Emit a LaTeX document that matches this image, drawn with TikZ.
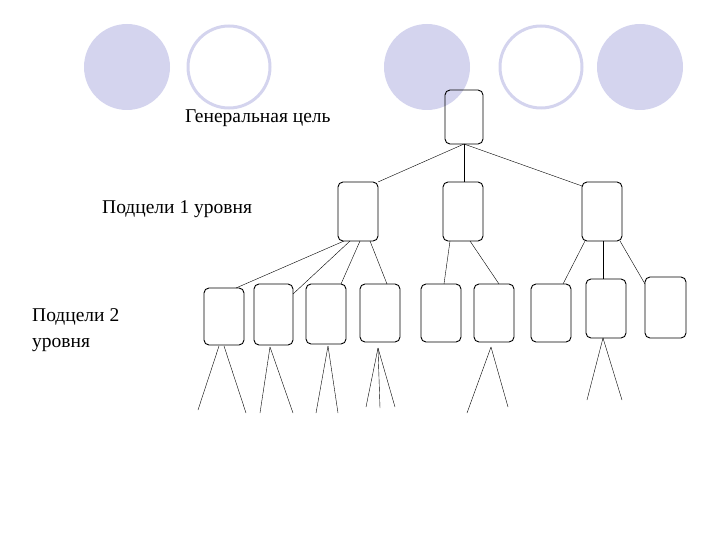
\documentclass[tikz,border=0pt]{standalone}
\usepackage{fontspec}
\setmainfont{Liberation Serif}
\begin{document}
\begin{tikzpicture}[x=1pt,y=-1pt,
  bx/.style={draw,rounded corners=5pt,line width=0.9pt},
  oc/.style={draw=lavc,line width=3pt},
  lb/.style={font=\fontsize{19.5}{26}\selectfont,anchor=west,align=left,inner sep=0pt}]
\definecolor{lavc}{RGB}{212,212,238}
\useasboundingbox (0,0) rectangle (720,540);
\fill[lavc] (127,67) circle (43);
\draw[oc] (229,67) circle (41);
\fill[lavc] (427,67) circle (43);
\draw[oc] (541,67) circle (41);
\fill[lavc] (640,67) circle (43);
\node[lb] (t0) at (185,118) {Генеральная цель};
\node[lb] (t1) at (102,209) {Подцели 1 уровня};
\node[lb] (t2) at (32,330) {Подцели 2\\уровня};
\draw[bx] (445,90) rectangle (483,144);
\draw[bx] (338,182) rectangle (378,241);
\draw[bx] (443,182) rectangle (483,241);
\draw[bx] (582,182) rectangle (622,241);
\draw[bx] (204,288) rectangle (244,345);
\draw[bx] (254,284) rectangle (293,345);
\draw[bx] (306,284) rectangle (346,344);
\draw[bx] (360,284) rectangle (400,342);
\draw[bx] (421,284) rectangle (461,342);
\draw[bx] (474,284) rectangle (514,342);
\draw[bx] (531,284) rectangle (571,342);
\draw[bx] (586,279) rectangle (626,338);
\draw[bx] (645,277) rectangle (686,338);
\coordinate (tb) at (464,144);
\draw (tb) -- (378,182);
\draw (tb) -- (464,182);
\draw (tb) -- (582,186);
\draw (344,241) -- (236,288);
\draw (350,241) -- (293,294);
\draw (360,241) -- (341,284);
\draw (370,241) -- (387,284);
\draw (450,241) -- (444,284);
\draw (470,241) -- (499,284);
\draw (585,241) -- (563,284);
\draw (603,241) -- (603,279);
\draw (620,241) -- (645,284);
\draw (219,346) -- (198,410); \draw (224,346) -- (246,413);
\draw (270,347) -- (260,413); \draw (270,347) -- (293,413);
\draw (328,346) -- (316,413); \draw (328,346) -- (338,413);
\draw (378,348) -- (366,407); \draw (378,348) -- (380,408); \draw (378,348) -- (395,407);
\draw (491,347) -- (467,413); \draw (491,347) -- (508,407);
\draw (603,338) -- (587,400); \draw (603,338) -- (622,400);
\end{tikzpicture}
\end{document}
